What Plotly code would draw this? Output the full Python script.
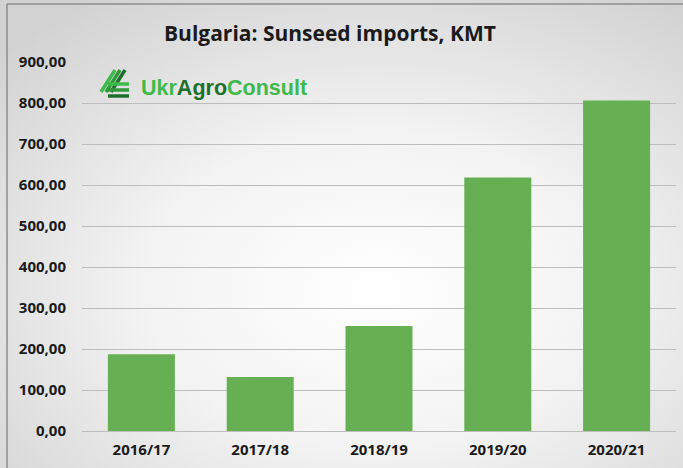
import base64
import plotly.graph_objects as go

categories = ["2016/17", "2017/18", "2018/19", "2019/20", "2020/21"]
imports_kmt = [187.5, 132.0, 256.0, 618.0, 806.0]
tick_values = [0, 100, 200, 300, 400, 500, 600, 700, 800, 900]
tick_labels = ["0,00", "100,00", "200,00", "300,00", "400,00", "500,00",
               "600,00", "700,00", "800,00", "900,00"]

W, H = 683, 468

svg = f'''<svg xmlns="http://www.w3.org/2000/svg" width="{W}" height="{H}" viewBox="0 0 {W} {H}">
<defs><radialGradient id="g" cx="0.55" cy="0.62" r="0.75">
<stop offset="0" stop-color="#ffffff"/><stop offset="0.45" stop-color="#f3f3f3"/><stop offset="1" stop-color="#d2d2d2"/>
</radialGradient></defs>
<rect width="{W}" height="{H}" fill="url(#g)"/></svg>'''
bg_src = "data:image/svg+xml;base64," + base64.b64encode(svg.encode()).decode()

fig = go.Figure()
fig.add_trace(go.Bar(
    x=categories, y=imports_kmt,
    marker=dict(color="#66af53", line=dict(width=0)),
    hoverinfo="x+y",
))

L, R, T, B = 82, 683 - 676, 62, 468 - 431

fig.update_layout(
    width=W, height=H,
    margin=dict(l=L, r=R, t=T, b=B, autoexpand=False),
    paper_bgcolor="rgba(0,0,0,0)",
    plot_bgcolor="rgba(0,0,0,0)",
    bargap=0.436,
    showlegend=False,
    font=dict(family="Open Sans", color="#1a1a1a"),
    xaxis=dict(
        automargin=False,
        showgrid=False, zeroline=False, showline=False, ticks="",
        tickfont=dict(size=15, family="Open Sans", weight="bold", color="#1a1a1a"),
        ticklabelstandoff=8,
    ),
    yaxis=dict(
        automargin=False,
        range=[0, 900], tickvals=tick_values, ticktext=tick_labels,
        showgrid=True, gridcolor="#bdbdbd", gridwidth=1,
        zeroline=True, zerolinecolor="#bdbdbd", zerolinewidth=1,
        showline=False, ticks="",
        tickfont=dict(size=15, family="Open Sans", weight="bold", color="#1a1a1a"),
        ticklabelstandoff=15,
    ),
    images=[dict(source=bg_src, xref="paper", yref="paper",
                 x=-L / (W - L - R), y=1 + T / (H - T - B),
                 sizex=W / (W - L - R), sizey=H / (H - T - B),
                 xanchor="left", yanchor="top", sizing="stretch", layer="below")],
)

def px(x):
    return (x - L) / (W - L - R)

def py(y):
    return (H - B - y) / (H - T - B)

# Title
fig.add_annotation(
    text="<b>Bulgaria: Sunseed imports, KMT</b>",
    xref="paper", yref="paper", x=px(330), y=py(33),
    xanchor="center", yanchor="middle", showarrow=False,
    font=dict(size=21, family="Open Sans", color="#1a1a1a"),
)

# Logo text
fig.add_annotation(
    text="<b><span style='color:#3dba4b'>Ukr</span><span style='color:#1e6f2c'>Agro</span><span style='color:#3dba4b'>Consult</span></b>",
    xref="paper", yref="paper", x=px(139), y=py(88),
    xanchor="left", yanchor="middle", showarrow=False,
    font=dict(size=21.5, family="Liberation Sans"),
)

shapes = []
# Logo icon: slashes and horizontal bars
for i, col in enumerate(["#3dba4b", "#2e9a3c", "#1e6f2c"]):
    x0 = 101 + i * 5
    shapes.append(dict(type="line", xref="paper", yref="paper",
                       x0=px(x0), y0=py(92), x1=px(x0 + 14), y1=py(70),
                       line=dict(color=col, width=3.5)))
for j, (yy, col) in enumerate([(84, "#3dba4b"), (90, "#2e9a3c"), (96, "#1e6f2c")]):
    shapes.append(dict(type="line", xref="paper", yref="paper",
                       x0=px(108), y0=py(yy), x1=px(129), y1=py(yy),
                       line=dict(color=col, width=3.5)))
# Frame border (left and top)
shapes.append(dict(type="line", xref="paper", yref="paper",
                   x0=px(7), y0=py(4), x1=px(7), y1=py(468),
                   line=dict(color="#8c8c8c", width=1.5)))
shapes.append(dict(type="line", xref="paper", yref="paper",
                   x0=px(7), y0=py(4), x1=px(683), y1=py(4),
                   line=dict(color="#8c8c8c", width=1.5)))
fig.update_layout(shapes=shapes)

fig.write_html("out.html", config={"displayModeBar": False},
               post_script="document.body.style.margin='0';document.body.style.overflow='hidden';")
